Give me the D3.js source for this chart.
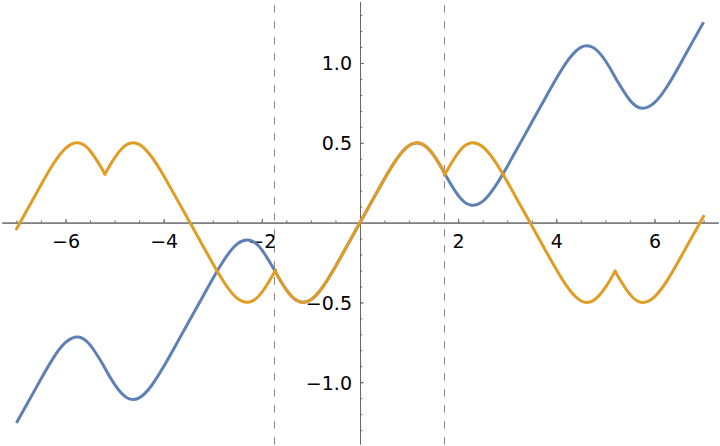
<!DOCTYPE html>
<html><head><meta charset="utf-8">
<script src="https://cdn.jsdelivr.net/npm/d3@7"></script>
<style>
html,body{margin:0;padding:0;background:#fff;}
svg{display:block;}
.tk text{font-family:"DejaVu Sans",sans-serif;font-size:19px;fill:#000;}
</style></head>
<body>
<svg id="c" width="720" height="446"></svg>
<script>
// sample x positions (includes the fold points ±√3, ±3√3)
const xs = [-7,-6.75,-6.5,-6.25,-6,-5.75,-5.5,-5.25,-5.196,-5,-4.75,-4.5,-4.25,-4,-3.75,-3.5,-3.25,-3,-2.75,-2.5,-2.25,-2,-1.75,-1.732,-1.5,-1.25,-1,-0.75,-0.5,-0.25,
  0,0.25,0.5,0.75,1,1.25,1.5,1.732,1.75,2,2.25,2.5,2.75,3,3.25,3.5,3.75,4,4.25,4.5,4.75,5,5.196,5.25,5.5,5.75,6,6.25,6.5,6.75,7];
const blueVals = [-1.255,-1.118,-0.980,-0.849,-0.751,-0.716,-0.766,-0.883,-0.912,-1.014,-1.097,-1.098,-1.022,-0.902,-0.766,-0.628,-0.490,-0.352,-0.225,-0.133,-0.110,-0.171,-0.294,-0.304,-0.422,-0.494,-0.483,-0.399,-0.275,-0.138,
  0,0.138,0.275,0.399,0.483,0.494,0.422,0.304,0.294,0.171,0.110,0.133,0.225,0.352,0.490,0.628,0.766,0.902,1.022,1.098,1.097,1.014,0.912,0.883,0.766,0.716,0.751,0.849,0.980,1.118,1.255];
const orangeVals = [-0.040,0.098,0.236,0.367,0.465,0.500,0.450,0.333,0.304,0.406,0.489,0.490,0.414,0.294,0.158,0.020,-0.118,-0.256,-0.383,-0.475,-0.498,-0.437,-0.314,-0.304,-0.422,-0.494,-0.483,-0.399,-0.275,-0.138,
  0,0.138,0.275,0.399,0.483,0.494,0.422,0.304,0.314,0.437,0.498,0.475,0.383,0.256,0.118,-0.020,-0.158,-0.294,-0.414,-0.490,-0.489,-0.406,-0.304,-0.333,-0.450,-0.500,-0.465,-0.367,-0.236,-0.098,0.040];
const foldX = [-5.196,-1.732,1.732,5.196];
const dashedX = [-1.732,1.732];
const xMajor = [-6,-4,-2,2,4,6];
const xMinor = [-7,-6.5,-6,-5.5,-5,-4.5,-4,-3.5,-3,-2.5,-2,-1.5,-1,-0.5,0.5,1,1.5,2,2.5,3,3.5,4,4.5,5,5.5,6,6.5,7];
const yMajor = [-1,-0.5,0.5,1];
const yMinor = [-1.3,-1.2,-1.1,-1,-0.9,-0.8,-0.7,-0.6,-0.5,-0.4,-0.3,-0.2,-0.1,0.1,0.2,0.3,0.4,0.5,0.6,0.7,0.8,0.9,1,1.1,1.2,1.3];

const svg = d3.select("#c");
const x = d3.scaleLinear().domain([-7.3,7.3]).range([1.7,718.3]);
const y = d3.scaleLinear().domain([-1.387,1.385]).range([444,1.5]);
const axisCol = "#666";

// dashed guide lines
svg.append("g").selectAll("line").data(dashedX).join("line")
  .attr("x1",d=>Math.round(x(d))-0.5).attr("x2",d=>Math.round(x(d))-0.5)
  .attr("y1",5).attr("y2",446)
  .attr("stroke","#8a8a8a").attr("stroke-width",1).attr("stroke-dasharray","7.7,8.3");

// x axis
const y0 = y(0);
svg.append("g").attr("class","tk").attr("transform",`translate(0,${y0})`)
  .call(d3.axisBottom(x).tickValues(xMinor).tickSizeInner(-2.2).tickSizeOuter(0).tickFormat(""));
svg.append("g").attr("class","tk").attr("transform",`translate(0,${y0})`)
  .call(d3.axisBottom(x).tickValues(xMajor).tickSizeInner(-3.8).tickSizeOuter(0).tickPadding(12).tickFormat(d3.format("d")));
// y axis
const x0 = x(0);
svg.append("g").attr("class","tk").attr("transform",`translate(${x0},0)`)
  .call(d3.axisLeft(y).tickValues(yMinor).tickSizeInner(-2.3).tickSizeOuter(0).tickFormat(""));
const gy = svg.append("g").attr("class","tk").attr("transform",`translate(${x0},0)`)
  .call(d3.axisLeft(y).tickValues(yMajor).tickSizeInner(-3.8).tickSizeOuter(0).tickPadding(8).tickFormat(d3.format(".1f")));
svg.selectAll(".tk path.domain").attr("stroke",axisCol).attr("stroke-width",1);
svg.selectAll(".tk line").attr("stroke",axisCol).attr("stroke-width",1);
gy.selectAll("text").attr("dy","0.36em");

// curves
const pts = (vals)=>xs.map((d,i)=>[d,vals[i]]);
const line = d3.line().x(d=>x(d[0])).y(d=>y(d[1])).curve(d3.curveNatural);
svg.append("path").attr("d",line(pts(blueVals)))
  .attr("fill","none").attr("stroke","#5E81B5").attr("stroke-width",3).attr("stroke-linejoin","round").attr("stroke-linecap","butt");

// orange: split into pieces at the fold points so the corners stay sharp
const op = pts(orangeVals);
const segs = []; let cur = [];
op.forEach(p=>{ cur.push(p); if(foldX.includes(p[0])){ segs.push(cur); cur=[p]; } });
segs.push(cur);
svg.append("g").selectAll("path").data(segs).join("path").attr("d",line)
  .attr("fill","none").attr("stroke","#E19C24").attr("stroke-width",3).attr("stroke-linejoin","round").attr("stroke-linecap","round");
</script>
</body></html>
